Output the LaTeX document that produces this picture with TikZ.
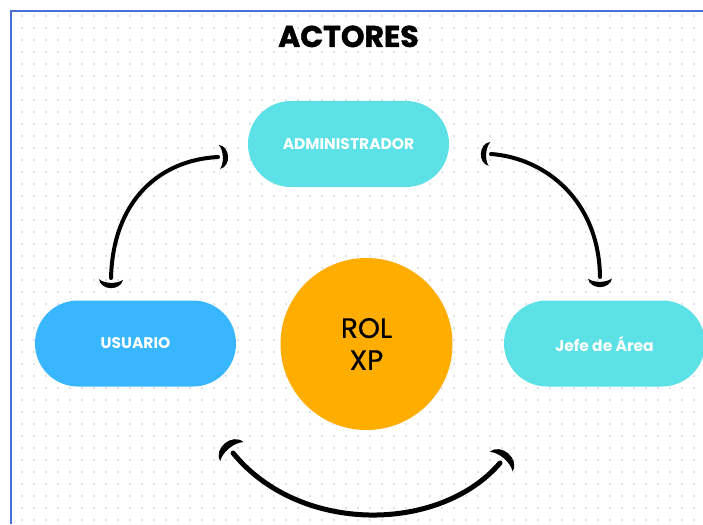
\documentclass[tikz,border=0pt]{standalone}
\usepackage{fontspec}
\setmainfont{Poppins}
\newfontfamily\titlefont[FakeBold=1.4]{Poppins}
\newfontfamily\medfont[FakeBold=0.7]{Poppins}
\usetikzlibrary{decorations.markings}
\definecolor{turq}{RGB}{92,225,230}
\definecolor{skyb}{RGB}{56,182,255}
\definecolor{amber}{RGB}{255,174,0}
\definecolor{dotc}{RGB}{224,224,234}
\definecolor{framec}{RGB}{72,112,212}
\newcommand\mycrescent[1][]{\fill[#1] (1.5,12) .. controls (13,10) and (13,-10) .. (1.5,-12) .. controls (6,-6) and (6,6) .. cycle;}
\tikzset{
  pill/.style={rectangle, rounded corners=43pt, minimum width=201pt, minimum height=86pt, inner sep=0pt, text=white, font=\bfseries\fontsize{15.5}{18}\selectfont},
  hand/.style={line width=4pt, line cap=round, postaction={decorate},
    decoration={markings,
      mark=at position 0 with {\mycrescent[xscale=-1, scale=#1]},
      mark=at position 0.9999 with {\mycrescent[scale=#1]}}},
  hand/.default=1,
  hub/.style={circle, fill=amber, minimum size=172pt, inner sep=0pt, align=center, font=\medfont\fontsize{28}{32}\selectfont},
  titlestyle/.style={font=\titlefont\bfseries\fontsize{30}{32}\selectfont, anchor=base}
}
\begin{document}
\begin{tikzpicture}[x=1pt,y=-1pt]
\useasboundingbox (0,0) rectangle (703,524);
\fill[white] (0,0) rectangle (703,524);
\foreach \i in {0,...,56}{
  \foreach \j in {0,...,42}{
    \fill[dotc] (20.8+12*\i,14.8+12*\j) rectangle ++(2.4,2.4);
  }
}
\draw[framec, line width=2.5pt] (11,524) -- (11,11) -- (703,11);
\node[titlestyle] (title) at (348.5,47) {ACTORES};
\node[pill, fill=turq] (adm) at (348.5,144) {ADMINISTRADOR};
\node[pill, fill=skyb] (usu) at (135.5,343.5) {USUARIO};
\node[pill, fill=turq] (jefe) at (604.5,343.5) {Jefe de Área};
\node[hub] (rol) at (366.5,344) {ROL\\XP};
\coordinate (l1) at (111,278);
\coordinate (l2) at (218,157);
\coordinate (r1) at (491,154);
\coordinate (r2) at (600,277);
\coordinate (b1) at (233,453);
\coordinate (b2) at (500,463);
\draw[hand] (l1) .. controls (113,200) and (160,160) .. (l2);
\draw[hand] (r1) .. controls (545,158) and (599,200) .. (r2);
\draw[hand=1.25, line width=5pt] (b1) .. controls (300,535) and (440,533) .. (b2);
\end{tikzpicture}
\end{document}
